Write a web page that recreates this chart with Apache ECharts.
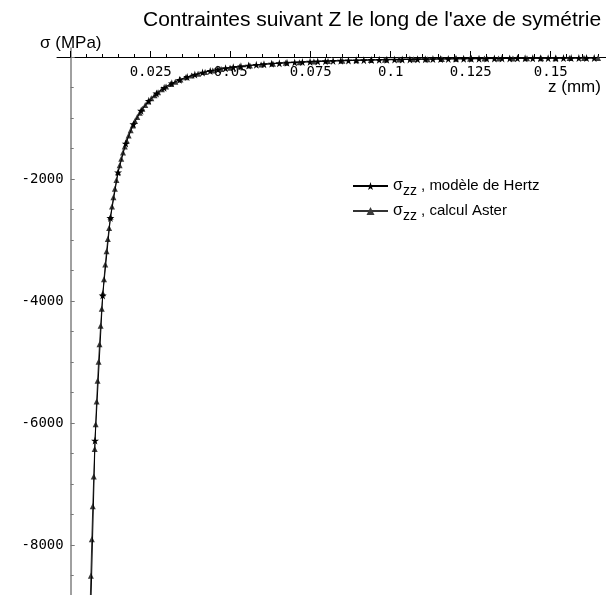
<!DOCTYPE html>
<html><head><meta charset="utf-8">
<script src="https://cdn.jsdelivr.net/npm/echarts@6/dist/echarts.min.js"></script>
<style>html,body{margin:0;padding:0;background:#fff}#c{width:606px;height:595px}</style>
</head><body><div id="c"></div>
<script>
const titleText = "Contraintes suivant Z le long de l'axe de symétrie";
const yName = 'σ (MPa)';
const xName = 'z (mm)';
const seriesNames = ['σzz , modèle de Hertz', 'σzz , calcul Aster'];
const legendLabels = [' , modèle de Hertz', ' , calcul Aster'];
const xTicks = [0.025, 0.05, 0.075, 0.1, 0.125, 0.15];
const yTicks = [-2000, -4000, -6000, -8000];

const hertzZ = [0.0052,0.0076,0.0100,0.0124,0.0148,0.0172,0.0196,0.0220,0.0244,0.0268,0.0292,0.0316,0.0340,0.0364,0.0388,0.0412,0.0436,0.0460,0.0484,0.0508,0.0532,0.0556,0.0580,0.0604,0.0628,0.0652,0.0676,0.0700,0.0724,0.0748,0.0772,0.0796,0.0820,0.0844,0.0868,0.0892,0.0916,0.0940,0.0964,0.0988,0.1012,0.1036,0.1060,0.1084,0.1108,0.1132,0.1156,0.1180,0.1204,0.1228,0.1252,0.1276,0.1300,0.1324,0.1348,0.1372,0.1396,0.1420,0.1444,0.1468,0.1492,0.1516,0.1540,0.1564,0.1588,0.1612,0.1636];
const hertzS = [-11288,-6288,-3908,-2638,-1891,-1419,-1102,-880,-719,-598,-505,-432,-374,-326,-288,-255,-228,-205,-185,-168,-153,-141,-129,-119,-110,-102,-95,-89,-83,-78,-73,-69,-65,-61,-58,-55,-52,-49,-47,-45,-43,-41,-39,-37,-36,-34,-33,-31,-30,-29,-28,-27,-26,-25,-24,-23,-22,-22,-21,-20,-20,-19,-18,-18,-17,-17,-16];

const asterZ = [0.0060,0.0063,0.0066,0.0069,0.0072,0.0075,0.0078,0.0081,0.0084,0.0087,0.0090,0.00935,0.0097,0.01005,0.0104,0.0108,0.0112,0.0116,0.0120,0.01245,0.0129,0.01335,0.0138,0.0143,0.0148,0.0153,0.0158,0.01635,0.0169,0.0175,0.0181,0.01875,0.0194,0.0201,0.0208,0.0216,0.0224,0.0233,0.0242,0.0252,0.0262,0.0273,0.0285,0.0298,0.0312,0.0327,0.0343,0.0360,0.0378,0.0398,0.0420,0.0444,0.0470,0.0498,0.0528,0.0560,0.0595,0.0632,0.0672,0.0715,0.0760,0.0804,0.0849,0.0893,0.0938,0.0982,0.1026,0.1071,0.1115,0.1160,0.1204,0.1248,0.1293,0.1337,0.1382,0.1426,0.1470,0.1515,0.1559,0.1604,0.1648];
const asterS = [-9163,-8504,-7907,-7366,-6875,-6428,-6021,-5649,-5309,-4997,-4710,-4405,-4127,-3874,-3642,-3401,-3183,-2984,-2803,-2618,-2450,-2298,-2159,-2018,-1891,-1775,-1670,-1564,-1468,-1372,-1286,-1201,-1124,-1049,-982,-912,-850,-787,-730,-675,-625,-576,-529,-485,-443,-404,-367,-334,-303,-273,-246,-220,-196,-175,-156,-139,-123,-109,-96,-85,-75,-67,-61,-55,-50,-45,-41,-38,-35,-32,-30,-28,-26,-24,-23,-21,-20,-19,-18,-17,-16];

const STAR = 'path://M50,0 L61,35 L98,35 L68,57 L79,91 L50,70 L21,91 L32,57 L2,35 L39,35 Z';
const mono = 'DejaVu Sans Mono';
const sans = 'Liberation Sans';

const chart = echarts.init(document.getElementById('c'), null, {renderer: 'canvas'});
const isTick = (arr, v) => arr.some(t => Math.abs(t - v) < 1e-9);

chart.setOption({
  animation: false,
  backgroundColor: '#fff',
  title: [
    {text: titleText, left: 143, top: 10, padding: 0, textStyle: {fontFamily: sans, fontSize: 21, fontWeight: 'normal', color: '#000'}},
    {text: yName, left: 40, top: 35, padding: 0, textStyle: {fontFamily: sans, fontSize: 17, fontWeight: 'normal', color: '#000'}},
    {text: xName, left: 548, top: 79, padding: 0, textStyle: {fontFamily: sans, fontSize: 17, fontWeight: 'normal', color: '#000'}}
  ],
  legend: {
    orient: 'vertical', left: 352, top: 178, padding: 0, itemWidth: 35, itemHeight: 10, itemGap: 5,
    data: seriesNames,
    formatter: name => '{g|σ}{s|zz}{t|' + legendLabels[seriesNames.indexOf(name)] + '}',
    textStyle: {
      color: '#000', fontFamily: sans, fontSize: 15,
      rich: {
        g: {fontFamily: sans, fontSize: 16, color: '#000'},
        s: {fontFamily: sans, fontSize: 14, color: '#000', padding: [10, 0, 0, 0]},
        t: {fontFamily: sans, fontSize: 15, color: '#000'}
      }
    }
  },
  grid: [
    {left: 70.7, right: -24.7, top: 57, bottom: -72, outerBoundsMode: 'none', containLabel: false},
    {left: 57, right: 0, top: 48, bottom: -72, outerBoundsMode: 'none', containLabel: false}
  ],
  xAxis: [
    {gridIndex: 0, type: 'value', min: 0, max: 0.175, interval: 0.025, position: 'top',
     axisLine: {show: false, onZero: false},
     axisTick: {show: true, inside: false, length: 6, lineStyle: {color: '#000'}},
     minorTick: {show: true, splitNumber: 5, length: 3, lineStyle: {color: '#000'}},
     axisLabel: {inside: true, margin: 8, fontFamily: mono, fontSize: 14, color: '#000',
       formatter: v => isTick(xTicks, v) ? String(+v.toFixed(3)) : ''},
     splitLine: {show: false}},
    {gridIndex: 1, type: 'value', min: -0.0043, max: 0.16726,
     axisLine: {show: true, onZero: true, lineStyle: {color: '#000', width: 1}},
     axisTick: {show: false}, axisLabel: {show: false}, splitLine: {show: false}}
  ],
  yAxis: [
    {gridIndex: 0, type: 'value', min: -10000, max: 0, interval: 2000, position: 'left',
     axisLine: {show: false, onZero: false},
     axisTick: {show: true, inside: true, length: 4, lineStyle: {color: '#777'}},
     minorTick: {show: true, splitNumber: 4, length: 3, lineStyle: {color: '#777'}},
     axisLabel: {margin: 7, fontFamily: mono, fontSize: 14, color: '#000',
       formatter: v => isTick(yTicks, v) ? String(v) : ''},
     splitLine: {show: false}},
    {gridIndex: 1, type: 'value', min: -10000, max: 148.3,
     axisLine: {show: true, onZero: true, lineStyle: {color: '#808080', width: 1.5}},
     axisTick: {show: false}, axisLabel: {show: false}, splitLine: {show: false}}
  ],
  series: [
    {type: 'line', name: seriesNames[0], xAxisIndex: 0, yAxisIndex: 0, z: 4,
     data: hertzZ.map((z, i) => [z, hertzS[i]]),
     symbol: STAR, symbolSize: 8, showSymbol: true,
     itemStyle: {color: '#000'}, lineStyle: {color: '#000', width: 1}},
    {type: 'line', name: seriesNames[1], xAxisIndex: 0, yAxisIndex: 0, z: 3,
     data: asterZ.map((z, i) => [z, asterS[i]]),
     symbol: 'triangle', symbolSize: 6, showSymbol: true,
     itemStyle: {color: '#3a3a3a'}, lineStyle: {color: '#333', width: 1}}
  ]
});
</script></body></html>
